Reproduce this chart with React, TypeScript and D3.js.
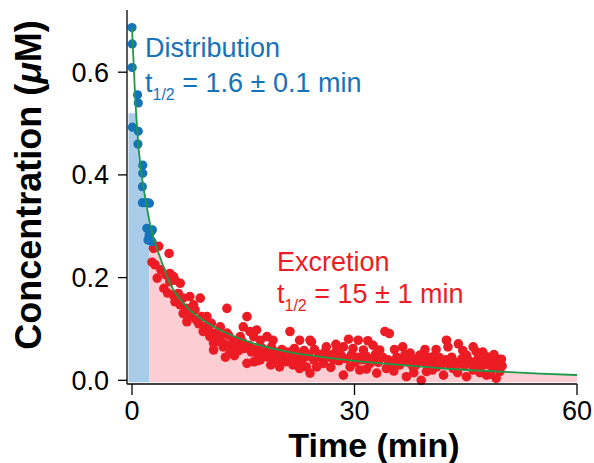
import React from "react";
import * as d3 from "d3";

// ---------- data ----------
const xTicks = [0, 30, 60];
const yTicks = [0, 0.2, 0.4, 0.6];
const yTickLabels = ["0.0", "0.2", "0.4", "0.6"];

// distribution-phase points [time (min), concentration (µM)]
const bluePoints: [number, number][] = [
  [0.0, 0.687], [0.03, 0.655], [0.03, 0.609], [0.75, 0.556], [0.85, 0.54],
  [0.05, 0.493], [0.85, 0.485], [0.8, 0.46], [1.45, 0.419], [1.45, 0.403],
  [1.4, 0.377], [1.4, 0.346], [2.0, 0.346], [2.35, 0.345], [2.0, 0.296],
  [2.75, 0.293], [2.15, 0.273], [2.7, 0.27], [2.3, 0.283], [2.6, 0.29],
];

// excretion-phase points
const redPoints: [number, number][] = [
  [2.9, 0.257], [3.6, 0.261], [5.0, 0.247], [2.7, 0.23], [3.1, 0.225], [3.4, 0.199],
  [4.3, 0.179], [3.9, 0.215], [4.6, 0.205], [5.1, 0.208], [5.6, 0.202], [5.8, 0.195],
  [5.1, 0.192], [6.5, 0.189], [4.8, 0.17], [5.57, 0.166], [6.24, 0.169], [6.9, 0.16],
  [7.8, 0.163], [9.2, 0.16], [5.8, 0.153], [6.5, 0.147], [7.4, 0.14], [8.3, 0.147],
  [6.9, 0.13], [7.6, 0.134], [8.5, 0.137], [9.4, 0.124], [10.1, 0.124], [8.7, 0.117],
  [7.4, 0.114], [9.8, 0.104], [10.7, 0.111], [11.9, 0.104], [12.8, 0.14], [10.5, 0.085],
  [11.0, 0.072], [11.9, 0.085], [12.8, 0.092], [13.7, 0.078], [14.6, 0.085], [11.0, 0.059],
  [12.3, 0.065], [13.2, 0.053], [14.1, 0.062], [15.5, 0.124], [15.0, 0.104], [15.9, 0.095],
  [16.4, 0.085], [16.8, 0.098], [17.3, 0.078], [18.2, 0.085], [19.0, 0.078], [15.5, 0.033],
  [16.4, 0.036], [17.3, 0.04], [18.2, 0.046], [19.0, 0.036], [19.9, 0.026], [20.8, 0.036],
  [21.7, 0.03], [22.6, 0.023], [23.5, 0.046], [24.2, 0.075], [21.3, 0.095], [24.0, 0.014],
  [24.9, 0.026],
  [8.0, 0.125], [9.0, 0.11], [9.6, 0.095], [10.3, 0.098], [11.3, 0.092], [11.6, 0.08],
  [12.0, 0.075], [12.6, 0.07], [13.0, 0.088], [13.4, 0.068], [14.0, 0.072], [14.4, 0.058],
  [14.9, 0.075], [15.2, 0.062], [15.8, 0.068], [16.1, 0.055], [16.6, 0.06], [17.0, 0.05],
  [17.6, 0.062], [18.0, 0.055], [18.5, 0.048], [18.8, 0.065], [19.4, 0.055], [19.7, 0.045],
  [20.2, 0.06], [20.5, 0.05], [21.0, 0.055], [21.5, 0.045], [21.9, 0.062], [22.3, 0.052],
  [22.8, 0.04], [23.2, 0.058], [23.8, 0.05], [24.5, 0.04], [13.8, 0.048], [12.6, 0.045],
  [16.9, 0.038], [18.7, 0.03], [20.0, 0.042], [22.0, 0.035], [23.0, 0.03], [24.6, 0.06],
  [22.6, 0.078], [24.0, 0.078], [26.2, 0.065], [27.6, 0.059], [28.5, 0.065], [29.2, 0.08],
  [30.5, 0.078], [31.8, 0.077], [29.8, 0.062], [31.2, 0.059], [33.4, 0.059], [35.4, 0.06],
  [34.1, 0.095], [34.7, 0.091], [37.5, 0.053], [38.8, 0.049], [40.6, 0.046], [42.4, 0.078],
  [42.6, 0.065], [44.0, 0.071], [46.0, 0.065], [46.4, 0.056], [45.1, 0.049], [47.8, 0.046],
  [49.4, 0.041], [49.8, 0.041],
  [23.5, 0.026], [25.8, 0.033], [27.2, 0.04], [28.5, 0.01], [29.4, 0.026], [30.7, 0.02],
  [32.1, 0.033], [33.0, 0.014], [34.3, 0.023], [36.1, 0.03], [37.0, 0.007], [37.9, 0.026],
  [39.0, 0.0], [39.7, 0.017], [41.1, 0.026], [42.0, 0.01], [43.3, 0.023], [44.2, 0.033],
  [45.1, 0.007], [46.0, 0.02], [47.1, 0.026], [47.8, 0.01], [48.7, 0.023], [49.6, 0.017],
  [49.1, 0.004],
  [25.2, 0.05], [25.6, 0.042], [26.0, 0.055], [26.6, 0.045], [27.0, 0.05], [27.9, 0.038],
  [28.2, 0.048], [28.9, 0.042], [29.6, 0.05], [30.1, 0.035], [30.4, 0.045], [31.0, 0.04],
  [31.5, 0.048], [32.4, 0.042], [32.8, 0.05], [33.2, 0.035], [33.8, 0.045], [34.5, 0.04],
  [35.0, 0.033], [35.7, 0.045], [36.4, 0.04], [36.8, 0.05], [37.3, 0.035], [37.8, 0.042],
  [38.3, 0.03], [38.6, 0.04], [39.3, 0.035], [39.9, 0.045], [40.2, 0.03], [40.9, 0.038],
  [41.4, 0.045], [41.8, 0.032], [42.3, 0.04], [42.8, 0.03], [43.1, 0.045], [43.7, 0.035],
  [44.5, 0.042], [44.8, 0.028], [45.5, 0.038], [45.9, 0.03], [46.6, 0.04], [47.0, 0.033],
  [47.5, 0.038], [48.1, 0.03], [48.4, 0.04], [48.9, 0.033], [49.3, 0.03], [49.9, 0.028],
  [26.8, 0.025], [31.6, 0.022], [35.3, 0.018], [38.0, 0.015], [40.5, 0.02], [43.9, 0.015],
  [46.9, 0.015], [48.3, 0.012], [27.5, 0.07], [32.5, 0.068], [36.5, 0.065], [39.5, 0.06],
  [41.0, 0.06], [44.6, 0.058], [47.3, 0.055], [48.8, 0.05],
];

// fitted curve, points
const fitCurve: [number, number][] = [
  [0, 0.686], [0.4, 0.56], [0.85, 0.46], [1.3, 0.4], [1.85, 0.35], [2.65, 0.29],
  [3.77, 0.24], [5.12, 0.189], [7.37, 0.143], [9.6, 0.117], [11.86, 0.098],
  [16.35, 0.072], [20.85, 0.056], [25.3, 0.046], [30, 0.038], [36.1, 0.03],
  [42, 0.023], [49.6, 0.017], [55, 0.013], [60, 0.0103],
];

// phase boundaries / fill limits
const fillStart = -0.5;
const phaseSplit = 2.33;
const fillEnd = 60;
const distributionCap = 0.52;

export default function App() {
  const W = 594, H = 463;
  const x = d3.scaleLinear().domain([0, 60]).range([132, 577]);
  const y = d3.scaleLinear().domain([0, 0.6]).range([380.3, 72.2]);
  const axisX = 127, axisY = 384, axisTop = 10;
  const baseline = 382.5;

  const area = d3
    .area<[number, number]>()
    .x((d) => x(d[0]))
    .y0(baseline)
    .y1((d) => y(d[1]))
    .curve(d3.curveMonotoneX);
  const line = d3
    .line<[number, number]>()
    .x((d) => x(d[0]))
    .y((d) => y(d[1]))
    .curve(d3.curveMonotoneX);

  const blueData: [number, number][] = [[fillStart, fitCurve[0][1]], ...fitCurve];

  const font = "'Liberation Sans', Arial, Helvetica, sans-serif";
  const blue = "#1673ba";
  const red = "#ec1c24";

  return (
    <svg
      width={W}
      height={H}
      style={{ position: "absolute", left: 0, top: 0, background: "#fff" }}
      fontFamily={font}
    >
      <defs>
        <clipPath id="clipBlue">
          <rect
            x={x(fillStart)}
            y={y(distributionCap)}
            width={x(phaseSplit) - x(fillStart)}
            height={baseline - y(distributionCap)}
          />
        </clipPath>
        <clipPath id="clipPink">
          <rect x={x(phaseSplit)} y={0} width={x(fillEnd) - x(phaseSplit)} height={baseline} />
        </clipPath>
      </defs>

      <path d={area(blueData) || ""} fill="#a9cce9" clipPath="url(#clipBlue)" />
      <path d={area(fitCurve) || ""} fill="#fccdd2" clipPath="url(#clipPink)" />

      {redPoints.map((d, i) => (
        <circle key={"r" + i} cx={x(d[0])} cy={y(d[1])} r={4.8} fill={red} />
      ))}
      {bluePoints.map((d, i) => (
        <circle key={"b" + i} cx={x(d[0])} cy={y(d[1])} r={4.6} fill={blue} />
      ))}

      <path d={line(fitCurve) || ""} fill="none" stroke="#1c9a48" strokeWidth={1.8} />

      {/* axes */}
      <g stroke="#000" strokeWidth={1.3} fill="none">
        <line x1={axisX} y1={axisTop} x2={axisX} y2={axisY} />
        <line x1={axisX} y1={axisY} x2={x(60)} y2={axisY} />
        {yTicks.map((t) => (
          <line key={"yt" + t} x1={axisX - 9} x2={axisX} y1={y(t)} y2={y(t)} />
        ))}
        {xTicks.map((t) => (
          <line key={"xt" + t} x1={x(t)} x2={x(t)} y1={axisY} y2={axisY + 11} />
        ))}
      </g>
      <g fontSize={27} fill="#000">
        {yTicks.map((t, i) => (
          <text key={"yl" + t} x={109} y={y(t) + 9.5} textAnchor="end">
            {yTickLabels[i]}
          </text>
        ))}
        {xTicks.map((t) => (
          <text key={"xl" + t} x={x(t)} y={420} textAnchor="middle">
            {t}
          </text>
        ))}
      </g>

      <text x={374} y={457} textAnchor="middle" fontSize={34} fontWeight="bold">
        Time (min)
      </text>
      <text
        transform="translate(41,185) rotate(-90)"
        textAnchor="middle"
        fontSize={36}
        fontWeight="bold"
      >
        Concentration (<tspan fontStyle="italic">μ</tspan>M)
      </text>

      <g fontSize={27} fill={blue}>
        <text x={145} y={57}>Distribution</text>
        <text x={145} y={92}>
          t<tspan fontSize={16} dy={8}>1/2</tspan>
          <tspan dy={-8}> = 1.6 ± 0.1 min</tspan>
        </text>
      </g>
      <g fontSize={27} fill={red}>
        <text x={277} y={271}>Excretion</text>
        <text x={277} y={303}>
          t<tspan fontSize={16} dy={8}>1/2</tspan>
          <tspan dy={-8}> = 15 ± 1 min</tspan>
        </text>
      </g>
    </svg>
  );
}
